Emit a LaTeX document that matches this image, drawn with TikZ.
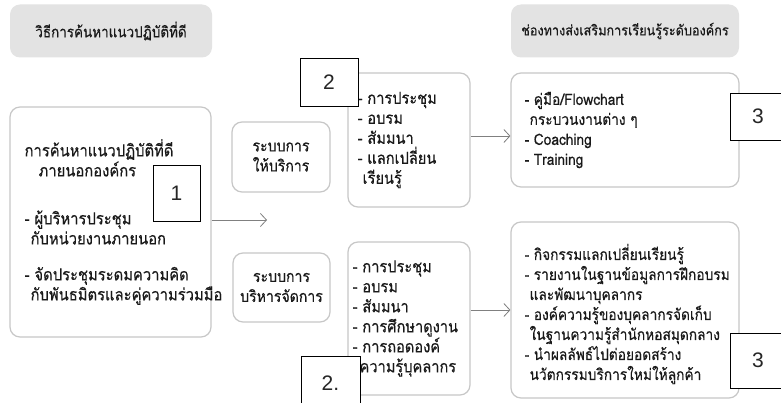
\documentclass[tikz,border=0pt]{standalone}
\usepackage{fontspec}
\newfontfamily\thai[Script=Thai,FakeBold=0.4,FakeStretch=0.88]{Loma}
\newfontfamily\numfont{Liberation Sans}
\usetikzlibrary{arrows.meta}

\begin{document}
\begin{tikzpicture}[x=1pt,y=-1pt,
  headbox/.style={fill=black!11, rounded corners=10pt, inner sep=0pt, text=black!90},
  panel/.style={draw=black!22, line width=1.2pt, rounded corners=10pt, fill=white,
    text=black!90, align=center, inner sep=0pt},
  body/.style={font=\thai\fontsize{15.6}{20}\selectfont, text=black!90, align=left,
    inner sep=0pt, anchor=west},
  numbox/.style={draw=black, line width=0.8pt, fill=white, inner sep=0pt,
    font=\numfont\fontsize{21}{21}\selectfont, text=black!85},
  flow/.style={draw=black!50, line width=0.8pt, -{Straight Barb[length=6pt,width=13pt]}}
]
\clip (0,0) rectangle (781,403);
\fill[white] (0,0) rectangle (781,403);

% column headings
\node[headbox, minimum width=202pt, minimum height=53pt,
      font=\thai\fontsize{15.3}{16}\selectfont] (h1) at (111,31)
  {วิธีการค้นหาแนวปฏิบัติที่ดี};
\node[headbox, minimum width=228pt, minimum height=53pt,
      font=\thai\fontsize{14.4}{16}\selectfont] (h2) at (625,31)
  {ช่องทางส่งเสริมการเรียนรู้ระดับองค์กร};

% external search for good practice
\node[panel, minimum width=201pt, minimum height=230pt] (ext) at (110.5,222) {};
\node[body, font=\thai\fontsize{16.8}{20}\selectfont] (extt) at ([xshift=15pt]ext.west)
  {\baselineskip=21pt การค้นหาแนวปฏิบัติที่ดี\\
   \hspace*{14pt}ภายนอกองค์กร\\[28pt]
   - ผู้บริหารประชุม\\
   \hspace*{6pt}กับหน่วยงานภายนอก\\[16pt]
   - จัดประชุมระดมความคิด\\
   \hspace*{6pt}กับพันธมิตรและคู่ความร่วมมือ};

% the two systems
\node[panel, minimum width=98pt, minimum height=70pt,
      font=\thai\fontsize{16}{20}\selectfont] (svc) at (281,157)
  {\baselineskip=20pt ระบบการ\\ให้บริการ};
\node[panel, minimum width=97pt, minimum height=69pt,
      font=\thai\fontsize{16}{20}\selectfont] (mgt) at (281.5,287.5)
  {\baselineskip=20pt ระบบการ\\บริหารจัดการ};

% activities of each system
\node[panel, minimum width=122pt, minimum height=134pt] (act1) at (409,140) {};
\node[body, font=\thai\fontsize{16.6}{20}\selectfont] (act1t) at ([xshift=10pt]act1.west)
  {\baselineskip=19pt - การประชุม\\
   - อบรม\\
   - สัมมนา\\
   - แลกเปลี่ยน\\
   \hspace*{5pt}เรียนรู้};
\node[panel, minimum width=122pt, minimum height=153pt] (act2) at (409,318.5) {};
\node[body, font=\thai\fontsize{16.6}{20}\selectfont] (act2t) at ([xshift=5pt]act2.west)
  {\baselineskip=20pt - การประชุม\\
   - อบรม\\
   - สัมมนา\\
   - การศึกษาดูงาน\\
   - การถอดองค์\\
   \hspace*{7pt}ความรู้บุคลากร};

% learning channels
\node[panel, minimum width=228pt, minimum height=114pt] (ch1) at (625,130) {};
\node[body] (ch1t) at ([xshift=14pt]ch1.west)
  {\baselineskip=20pt - คู่มือ/Flowchart\\
   \hspace*{5pt}กระบวนงานต่าง ๆ\\
   - Coaching\\
   - Training};
\node[panel, minimum width=228pt, minimum height=176pt] (ch2) at (625,310) {};
\node[body] (ch2t) at ([xshift=14pt,yshift=-4pt]ch2.west)
  {\baselineskip=20.5pt - กิจกรรมแลกเปลี่ยนเรียนรู้\\
   - รายงานในฐานข้อมูลการฝึกอบรม\\
   \hspace*{5pt}และพัฒนาบุคลากร\\
   - องค์ความรู้ของบุคลากรจัดเก็บ\\
   \hspace*{5pt}ในฐานความรู้สำนักหอสมุดกลาง\\
   - นำผลลัพธ์ไปต่อยอดสร้าง\\
   \hspace*{5pt}นวัตกรรมบริการใหม่ให้ลูกค้า};

% numbered markers
\node[numbox, minimum width=47pt, minimum height=56pt] (n1) at (176.5,193) {\raisebox{-3pt}{1}};
\node[numbox, minimum width=58pt, minimum height=48pt] (n2) at (329,82) {\raisebox{-7pt}{2}};
\node[numbox, minimum width=59pt, minimum height=54pt] (n2b) at (330.5,383) {\raisebox{-1pt}{2.}};
\node[numbox, minimum width=56pt, minimum height=47pt] (n3a) at (758,116.5) {\raisebox{-6pt}{3}};
\node[numbox, minimum width=56pt, minimum height=55pt] (n3b) at (758,360.5) {\raisebox{-2pt}{3}};

% connectors
\coordinate (mid) at (267,220);
\draw[flow] (ext.east |- mid) -- (mid);
\draw[flow] (act1.east |- 0,136) -- (ch1.west |- 0,136);
\draw[flow] (act2.east |- 0,310) -- (ch2.west |- 0,310);
\end{tikzpicture}
\end{document}
